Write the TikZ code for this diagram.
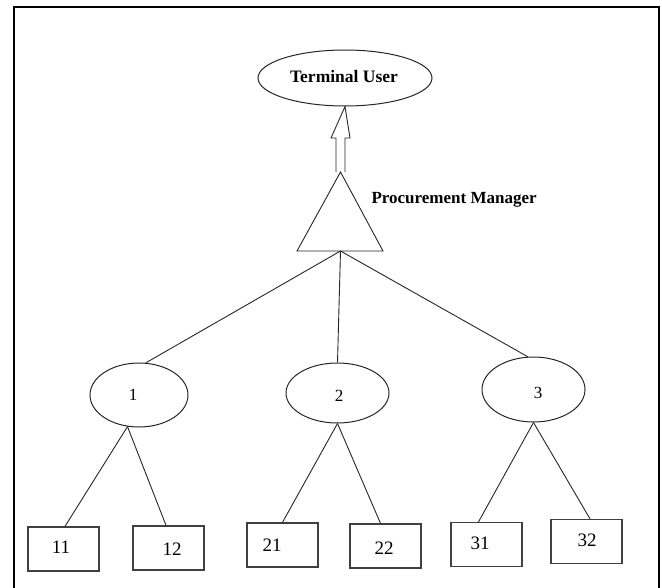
\documentclass[tikz,border=0pt]{standalone}
\usepackage{fontspec}
\setmainfont{Liberation Serif}
\usetikzlibrary{shapes.geometric}
\begin{document}
\begin{tikzpicture}[x=1pt,y=-1pt,
  line/.style={draw=black!85,line width=0.9pt},
  oval/.style={ellipse,draw=black!85,line width=1pt,inner sep=0pt},
  leaf/.style={rectangle,draw=black!75,line width=1.3pt,minimum width=71pt,minimum height=44pt,inner sep=0pt},
  num/.style={font=\fontsize{19}{19}\selectfont},
  onum/.style={font=\fontsize{17}{17}\selectfont}
]
\useasboundingbox (0,0) rectangle (662,587);
\draw[line width=2pt] (14,600) -- (14,7) -- (659,7) -- (659,600);
% top ellipse
\node[oval,minimum width=174pt,minimum height=56pt] (tu) at (345,78) {};
\node[font=\fontsize{17.5}{17.5}\selectfont\bfseries] (tut) at (344,77) {Terminal User};
% triangle
\coordinate (apex) at (340.5,172);
\coordinate (bl) at (297,251);
\coordinate (br) at (383,251);
\coordinate (base) at (340.5,251);
\draw[line] (apex) -- (bl) -- (br) -- cycle;
% hollow arrow
\coordinate (a1) at (336,172);
\coordinate (a2) at (336,138);
\coordinate (a3) at (331,138);
\coordinate (a4) at (350,138);
\coordinate (a5) at (345,138);
\coordinate (a6) at (345,172);
\draw[line,line join=miter] (a1) -- (a2) -- (a3) -- (tu.south) -- (a4) -- (a5) -- (a6);
\node[font=\fontsize{17}{17}\selectfont\bfseries,anchor=west] (pm) at (368,200) {Procurement Manager};
% middle ellipses
\node[oval,minimum width=98pt,minimum height=64pt] (e1) at (139,395) {};
\node[oval,minimum width=103pt,minimum height=60pt] (e2) at (337.5,393) {};
\node[oval,minimum width=103pt,minimum height=65pt] (e3) at (533.5,389.5) {};
\node[onum] (l1) at (133,395) {1};
\node[onum] (l2) at (339,396) {2};
\node[onum] (l3) at (538,393) {3};
\draw[line] (base) -- (e1.78);
\draw[line] (base) -- (e2.north);
\draw[line] (base) -- (e3.100);
% boxes
\node[leaf] (b11) at (63.5,549) {};
\node[leaf] (b12) at (168.5,548) {};
\node[leaf] (b21) at (282.5,545) {};
\node[leaf] (b22) at (385.5,546) {};
\node[leaf] (b31) at (486.5,544.5) {};
\node[leaf] (b32) at (586.5,541.5) {};
\node[num] (t11) at (61,547) {11};
\node[num] (t12) at (172,549) {12};
\node[num] (t21) at (272,545) {21};
\node[num] (t22) at (384,548) {22};
\node[num] (t31) at (480,543) {31};
\node[num] (t32) at (587,540) {32};
\draw[line] (e1.250) -- ([xshift=1.5pt]b11.north);
\draw[line] (e1.250) -- ([xshift=-2.5pt]b12.north);
\draw[line] (e2.south) -- (b21.north);
\draw[line] (e2.south) -- ([xshift=-5pt]b22.north);
\draw[line] (e3.south) -- ([xshift=-8pt]b31.north);
\draw[line] (e3.south) -- ([xshift=3.5pt]b32.north);
\end{tikzpicture}
\end{document}
